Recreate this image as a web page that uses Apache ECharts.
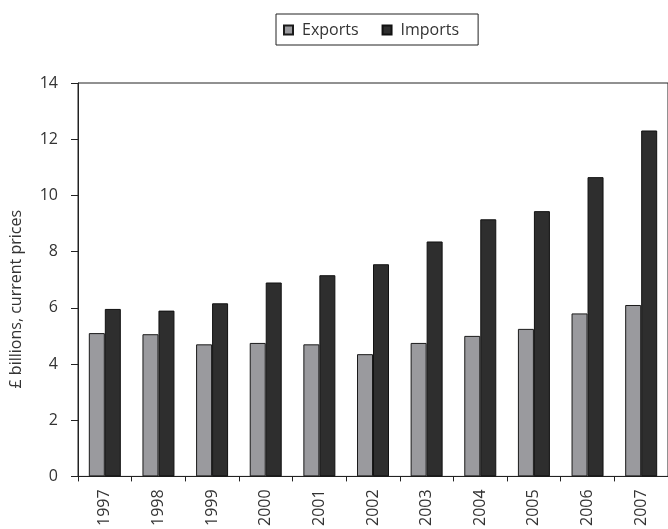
<!DOCTYPE html>
<html>
<head>
<meta charset="utf-8">
<script src="https://cdn.jsdelivr.net/npm/echarts@6/dist/echarts.min.js"></script>
<style>
html,body{margin:0;padding:0;background:#fff;overflow:hidden;}
#chart{width:668px;height:529px;}
</style>
</head>
<body>
<div id="chart"></div>
<script>
var years = ['1997','1998','1999','2000','2001','2002','2003','2004','2005','2006','2007'];
var exportsVals = [5.10, 5.06, 4.70, 4.75, 4.70, 4.35, 4.75, 5.00, 5.25, 5.80, 6.10];
var importsVals = [5.96, 5.90, 6.16, 6.90, 7.16, 7.55, 8.36, 9.15, 9.44, 10.65, 12.31];
var yTicks = { min: 0, max: 14, interval: 2 };
var seriesNames = ['Exports', 'Imports'];
var yAxisTitle = '£ billions, current prices';

var font = '"Open Sans", "DejaVu Sans", sans-serif';
var chart = echarts.init(document.getElementById('chart'), null, {renderer: 'canvas'});
chart.setOption({
  animation: false,
  backgroundColor: '#fff',
  textStyle: { fontFamily: font, color: '#333' },
  legend: {
    data: seriesNames,
    left: 276, top: 14,
    orient: 'horizontal',
    padding: [8, 19, 7, 7],
    borderColor: '#222', borderWidth: 1,
    itemWidth: 9, itemHeight: 9, itemGap: 23,
    icon: 'rect',
    textStyle: { fontFamily: font, fontSize: 16, color: '#333', padding: [0, 0, 0, 4] }
  },
  grid: {
    left: 78, right: -8, top: 83, bottom: 51,
    show: true, borderColor: '#222', borderWidth: 1, backgroundColor: 'transparent',
    containLabel: false
  },
  xAxis: {
    type: 'category',
    data: years,
    boundaryGap: true,
    axisLine: { lineStyle: { color: '#222', width: 1 } },
    axisTick: { show: true, length: 5, lineStyle: { color: '#222' }, alignWithLabel: false },
    axisLabel: { rotate: 90, margin: 13, fontSize: 16, color: '#333', fontFamily: font }
  },
  yAxis: {
    type: 'value',
    min: yTicks.min, max: yTicks.max, interval: yTicks.interval,
    name: yAxisTitle,
    nameLocation: 'middle',
    nameGap: 54,
    nameTextStyle: { fontSize: 16, color: '#333', fontFamily: font, padding: [0, 39, 0, 0] },
    axisLine: { show: true, lineStyle: { color: '#222', width: 1 } },
    axisTick: { show: true, length: 7, lineStyle: { color: '#222' } },
    splitLine: { show: false },
    axisLabel: { margin: 20, fontSize: 16, color: '#333', fontFamily: font }
  },
  series: [
    {
      name: seriesNames[0], type: 'bar', data: exportsVals,
      barWidth: 16, barGap: '0%',
      itemStyle: { color: '#9a9a9e', borderColor: '#1a1a1a', borderWidth: 1 }
    },
    {
      name: seriesNames[1], type: 'bar', data: importsVals,
      barWidth: 16, barGap: '0%',
      itemStyle: { color: '#2e2e2e', borderColor: '#111', borderWidth: 1 }
    }
  ]
});
</script>
</body>
</html>
